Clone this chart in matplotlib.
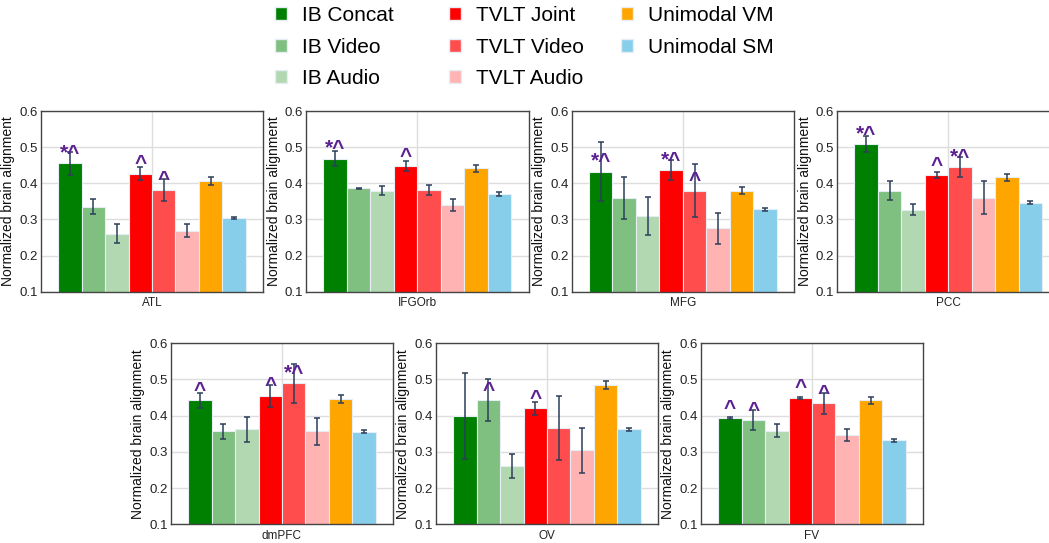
import matplotlib

matplotlib.use("Agg")
import matplotlib.pyplot as plt  # noqa: E402
import numpy as np  # noqa: E402
from matplotlib.patches import Patch  # noqa: E402

plt.rcParams["font.family"] = ["Liberation Sans", "DejaVu Sans"]

# --------------------------------------------------------------------------- #
# Data
# --------------------------------------------------------------------------- #
models = ["IB Concat", "IB Video", "IB Audio",
          "TVLT Joint", "TVLT Video", "TVLT Audio",
          "Unimodal VM", "Unimodal SM"]
colors = ["#008000", "#7fbf7f", "#b2d8b2",
          "#ff0000", "#ff4d4d", "#ffb3b3",
          "#ffa500", "#87ceeb"]
regions = ["ATL", "IFGOrb", "MFG", "PCC", "dmPFC", "OV", "FV"]

atl_mean = [0.455, 0.335, 0.261, 0.427, 0.382, 0.269, 0.405, 0.304]
atl_err = [0.031, 0.021, 0.027, 0.018, 0.031, 0.019, 0.011, 0.004]
atl_sig = ["*^", "", "", "^", "^", "", "", ""]

ifgorb_mean = [0.468, 0.386, 0.380, 0.448, 0.382, 0.339, 0.441, 0.371]
ifgorb_err = [0.020, 0.001, 0.013, 0.014, 0.014, 0.017, 0.010, 0.005]
ifgorb_sig = ["*^", "", "", "^", "", "", "", ""]

mfg_mean = [0.432, 0.360, 0.310, 0.437, 0.380, 0.276, 0.380, 0.328]
mfg_err = [0.082, 0.058, 0.053, 0.028, 0.073, 0.043, 0.011, 0.004]
mfg_sig = ["*^", "", "", "*^", "^", "", "", ""]

pcc_mean = [0.509, 0.380, 0.327, 0.423, 0.445, 0.360, 0.416, 0.346]
pcc_err = [0.022, 0.025, 0.016, 0.008, 0.028, 0.045, 0.011, 0.004]
pcc_sig = ["*^", "", "", "^", "*^", "", "", ""]

dmpfc_mean = [0.443, 0.357, 0.362, 0.455, 0.489, 0.357, 0.447, 0.356]
dmpfc_err = [0.021, 0.020, 0.034, 0.030, 0.055, 0.037, 0.011, 0.005]
dmpfc_sig = ["^", "", "", "^", "*^", "", "", ""]

ov_mean = [0.399, 0.443, 0.262, 0.420, 0.367, 0.304, 0.486, 0.362]
ov_err = [0.118, 0.059, 0.033, 0.017, 0.088, 0.062, 0.011, 0.005]
ov_sig = ["", "^", "", "^", "", "", "", ""]

fv_mean = [0.393, 0.388, 0.359, 0.450, 0.435, 0.347, 0.442, 0.332]
fv_err = [0.003, 0.028, 0.018, 0.003, 0.029, 0.016, 0.011, 0.004]
fv_sig = ["^", "^", "", "^", "^", "", "", ""]

means = [atl_mean, ifgorb_mean, mfg_mean, pcc_mean, dmpfc_mean, ov_mean, fv_mean]
errs = [atl_err, ifgorb_err, mfg_err, pcc_err, dmpfc_err, ov_err, fv_err]
sigs = [atl_sig, ifgorb_sig, mfg_sig, pcc_sig, dmpfc_sig, ov_sig, fv_sig]

# --------------------------------------------------------------------------- #
# Layout (pixel boxes: left, top, width, height)
# --------------------------------------------------------------------------- #
W, H = 1049, 543
fig = plt.figure(figsize=(W / 100, H / 100), dpi=100)

boxes = [(40.7, 111, 222.6, 180.7), (306, 111, 222.6, 180.7),
         (571.5, 111, 222.6, 180.7), (837, 111, 222.6, 180.7),
         (170.7, 343.3, 222.6, 181), (435.7, 343.3, 222.6, 181),
         (700.7, 343.3, 222.6, 181)]

ERR_COLOR = "#2c3e5a"
SIG_COLOR = "#5b2091"
x = np.arange(len(models))

for (l, t, w, h), region, m, e, s in zip(boxes, regions, means, errs, sigs):
    ax = fig.add_axes([l / W, 1 - (t + h) / H, w / W, h / H])
    ax.set_axisbelow(True)
    ax.grid(True, color="#dddddd", lw=1)
    ax.bar(x, m, width=1.0, color=colors, edgecolor="#e6edf5", linewidth=0.8,
           yerr=e, error_kw=dict(ecolor=ERR_COLOR, elinewidth=1.1,
                                 capsize=2.2, capthick=1.1))
    for xi, mi, si in zip(x, m, s):
        if si:
            ax.text(xi, mi + 0.012, si, ha="center", va="baseline",
                    fontsize=15, fontweight="bold", color=SIG_COLOR)
    ax.set_xlim(-1.24, 8.24)
    ax.set_ylim(0.1, 0.6)
    ax.set_yticks([0.1, 0.2, 0.3, 0.4, 0.5, 0.6])
    ax.set_xticks([3.5])
    ax.set_xticklabels([region], fontsize=8.5, color="#222222")
    ax.tick_params(axis="both", length=0, pad=4)
    ax.tick_params(axis="y", labelsize=9.5, colors="#222222", pad=2)
    ax.set_ylabel("Normalized brain alignment", fontsize=10, color="#111111",
                  labelpad=3)
    for sp in ax.spines.values():
        sp.set_color("#444444")
        sp.set_linewidth(1.0)

# --------------------------------------------------------------------------- #
# Legend: three groups, placed as columns
# --------------------------------------------------------------------------- #
groups = [(0, 3, 271), (3, 6, 445), (6, 8, 617)]
for start, stop, px in groups:
    handles = [Patch(facecolor=colors[i], edgecolor="#e6edf5", label=models[i])
               for i in range(start, stop)]
    fig.legend(handles=handles, loc="upper left",
               bbox_to_anchor=(px / W, 1 - 2 / H), frameon=False,
               fontsize=15, handlelength=0.56, handleheight=0.56,
               handletextpad=0.72, labelspacing=0.6, borderpad=0.2,
               borderaxespad=0)

fig.savefig("out.png", dpi=100)
